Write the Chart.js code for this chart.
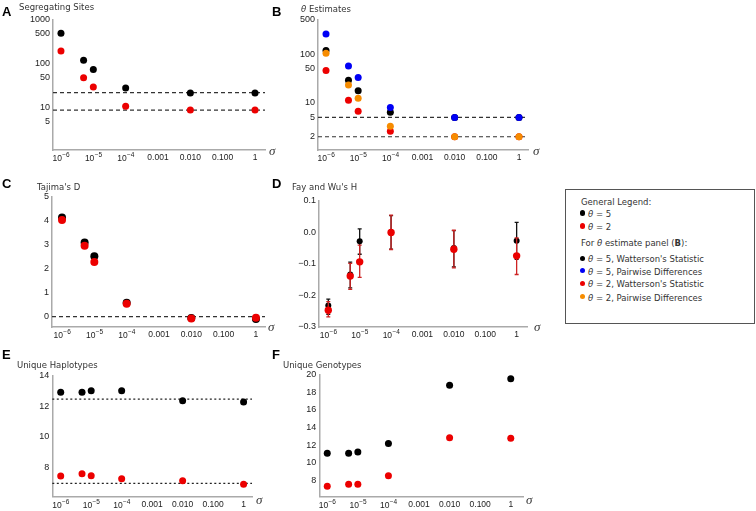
<!DOCTYPE html>
<html><head><meta charset="utf-8">
<script src="https://cdn.jsdelivr.net/npm/chart.js@4.4.0/dist/chart.umd.min.js"></script>
<style>
body{margin:0;background:#fff;width:756px;height:511px;position:relative;overflow:hidden;}
.t{position:absolute;line-height:1;white-space:nowrap;}
.let{font:bold 13px "Liberation Sans",Arial,sans-serif;color:#000;}
.ttl{font:8.5px "DejaVu Sans",sans-serif;color:#333;}
.sig{font:italic 13px "Liberation Serif",serif;color:#333;}
.leg{font:8.5px "DejaVu Sans",sans-serif;color:#333;}
#legbox{position:absolute;left:565px;top:189px;width:188px;height:133px;border:1px solid #555;}
.dot{position:absolute;width:5.5px;height:5.5px;border-radius:50%;}
</style></head><body>
<div id="legbox"></div>
<script>
// ---- data ----
const sigma = [1e-6, 5e-6, 1e-5, 1e-4, 0.01, 1];
const xTickValues = [1e-6, 1e-5, 1e-4, 1e-3, 1e-2, 1e-1, 1];
const xTickBase = ['10', '10', '10', '0.001', '0.010', '0.100', '1'];
const xTickExp = ['\u22126', '\u22125', '\u22124', '', '', '', ''];

const segTheta5 = [500, 121, 75, 28.5, 22, 22];
const segTheta2 = [197, 49, 30, 11, 9, 9];
const segExpected = [22.4, 8.96];
const segTicks = [5, 10, 50, 100, 500, 1000];
const segTickLabels = ['5', '10', '50', '100', '500', '1000'];

const thetaW5 = [118, 29, 17.7, 6.4, 5, 5];
const thetaPi5 = [259, 57, 33, 8, 5, 5];
const thetaW2 = [46, 11.3, 6.7, 2.6, 2, 2];
const thetaPi2 = [104, 23, 12.4, 3.3, 2, 2];
const thetaExpected = [5, 2];
const thetaTicks = [2, 5, 10, 50, 100, 500];
const thetaTickLabels = ['2', '5', '10', '50', '100', '500'];

const tajima5 = [4.14, 3.1, 2.53, 0.58, -0.05, -0.1];
const tajima2 = [4.04, 2.96, 2.29, 0.54, -0.07, -0.04];
const tajimaExpected = [0];
const tajimaTicks = [0, 1, 2, 3, 4, 5];
const tajimaTickLabels = ['0', '1', '2', '3', '4', '5'];

const fayWu5 = [-0.232, -0.134, -0.029, 0.0, -0.05, -0.027];
const fayWu5Lo = [-0.26, -0.176, -0.07, -0.054, -0.11, -0.086];
const fayWu5Hi = [-0.212, -0.095, 0.01, 0.052, 0.005, 0.031];
const fayWu2 = [-0.247, -0.139, -0.094, -0.001, -0.054, -0.075];
const fayWu2Lo = [-0.268, -0.181, -0.143, -0.055, -0.113, -0.134];
const fayWu2Hi = [-0.22, -0.099, -0.041, 0.054, 0.006, -0.018];
const fayWuTicks = [-0.3, -0.2, -0.1, 0, 0.1];
const fayWuTickLabels = ['\u22120.3', '\u22120.2', '\u22120.1', '0.0', '0.1'];

const hap5 = [12.91, 12.91, 13.02, 13.02, 12.36, 12.28];
const hap2 = [7.43, 7.58, 7.45, 7.25, 7.12, 6.9];
const hapExpected = [12.47, 6.95];
const hapTicks = [8, 10, 12, 14];
const hapTickLabels = ['8', '10', '12', '14'];

const geno5 = [11.1, 11.1, 11.24, 12.2, 18.76, 19.5];
const geno2 = [7.37, 7.6, 7.6, 8.57, 12.85, 12.78];
const genoTicks = [8, 10, 12, 14, 16, 18, 20];
const genoTickLabels = ['8', '10', '12', '14', '16', '18', '20'];

// ---- colours ----
const BLACK = '#000000', RED = 'rgb(236,0,0)', BLUE = 'rgb(0,0,245)', ORANGE = 'rgb(246,140,0)';
const TICK_FONT = '"Liberation Sans", Arial, sans-serif';

// ---- text helpers ----
function addText(html, x, baseline, cls, size) {
  const d = document.createElement('div');
  d.className = 't ' + cls;
  d.innerHTML = html;
  d.style.left = x + 'px';
  d.style.top = (baseline - 0.85 * size) + 'px';
  document.body.appendChild(d);
}

// ---- plugins ----
function hlinePlugin(values, dash, color, width) {
  return {
    id: 'hlines',
    beforeDatasetsDraw(chart) {
      const {ctx, chartArea: a} = chart;
      const y = chart.scales.y;
      ctx.save();
      ctx.setLineDash(dash);
      ctx.strokeStyle = color;
      ctx.lineWidth = width;
      values.forEach(v => {
        const py = y.getPixelForValue(v);
        ctx.beginPath(); ctx.moveTo(a.left, py); ctx.lineTo(a.right, py); ctx.stroke();
      });
      ctx.restore();
    }
  };
}
function errPlugin(sets) {
  return {
    id: 'errbars',
    beforeDatasetDraw(chart, args) {
      const s = sets[args.index];
      if (!s) return;
      const {ctx} = chart, x = chart.scales.x, y = chart.scales.y;
      ctx.save();
      ctx.strokeStyle = s.color; ctx.lineWidth = 1.3;
      sigma.forEach((sg, i) => {
        const px = x.getPixelForValue(sg), lo = y.getPixelForValue(s.lo[i]), hi = y.getPixelForValue(s.hi[i]);
        ctx.beginPath();
        ctx.moveTo(px, lo); ctx.lineTo(px, hi);
        ctx.moveTo(px - 2, lo); ctx.lineTo(px + 2, lo);
        ctx.moveTo(px - 2, hi); ctx.lineTo(px + 2, hi);
        ctx.stroke();
      });
      ctx.restore();
    }
  };
}
// power-of-ten tick labels with real superscript exponents
const powerTickPlugin = {
  id: 'powerTicks',
  afterDraw(chart) {
    const {ctx, chartArea: a} = chart, x = chart.scales.x;
    ctx.save();
    ctx.fillStyle = '#222';
    ctx.textBaseline = 'alphabetic';
    xTickValues.forEach((v, i) => {
      if (!xTickExp[i]) return;
      const px = x.getPixelForValue(v);
      ctx.font = '8.5px ' + TICK_FONT;
      const wb = ctx.measureText(xTickBase[i]).width;
      ctx.font = '6.5px ' + TICK_FONT;
      const we = ctx.measureText(xTickExp[i]).width;
      const x0 = px - (wb + we) / 2;
      ctx.font = '8.5px ' + TICK_FONT;
      ctx.fillText(xTickBase[i], x0, a.bottom + 11);
      ctx.font = '6.5px ' + TICK_FONT;
      ctx.fillText(xTickExp[i], x0 + wb + 0.3, a.bottom + 7);
    });
    ctx.restore();
  }
};

// ---- panel factory ----
function makePanel(cfg) {
  const {left, top, w, h} = cfg.box, area = cfg.area;
  const cv = document.createElement('canvas');
  cv.width = w; cv.height = h;
  cv.style.cssText = `position:absolute;left:${left}px;top:${top}px;width:${w}px;height:${h}px`;
  document.body.appendChild(cv);
  const yW = area.l - left, xH = top + h - area.b;
  const axisBorder = {color: '#aaaaaa', width: 1.5};
  const n = cfg.series.length;
  new Chart(cv, {
    type: 'scatter',
    data: {
      datasets: cfg.series.map((s, idx) => ({
        data: sigma.map((x, i) => ({x, y: s.values[i]})),
        backgroundColor: s.color, borderWidth: 0, order: n - idx,
        pointRadius: s.r || 3.5, pointHoverRadius: s.r || 3.5
      }))
    },
    options: {
      responsive: false, animation: false, events: [],
      layout: {padding: {top: area.t - top, right: left + w - area.r, left: 0, bottom: 0}},
      plugins: {legend: {display: false}, tooltip: {enabled: false}},
      scales: {
        x: {
          type: 'logarithmic', min: Math.pow(10, cfg.xExp[0]), max: Math.pow(10, cfg.xExp[1]),
          afterFit: s => { s.height = xH; },
          afterBuildTicks: s => { s.ticks = xTickValues.map(v => ({value: v})); },
          grid: {display: false, drawTicks: false},
          border: axisBorder,
          ticks: {autoSkip: false, maxRotation: 0, minRotation: 0, padding: 3, color: '#222',
            font: {family: TICK_FONT, size: 8.5}, callback: (v, i) => (xTickExp[i] ? '' : xTickBase[i])}
        },
        y: {
          type: cfg.yType, min: cfg.yMin, max: cfg.yMax,
          afterFit: s => { s.width = yW; },
          afterBuildTicks: s => { s.ticks = cfg.yTicks.map(v => ({value: v})); },
          grid: {display: false, drawTicks: false},
          border: axisBorder,
          ticks: {autoSkip: false, padding: 3, color: '#222',
            font: {family: TICK_FONT, size: 9}, callback: (v, i) => cfg.yLabels[i]}
        }
      }
    },
    plugins: [powerTickPlugin].concat(cfg.plugins || [])
  });
}

// A
makePanel({
  box: {left: 0, top: 0, w: 280, h: 172}, area: {l: 53, t: 20, r: 265, b: 150},
  xExp: [-6.247, 0.309], yType: 'logarithmic', yMin: 1.11, yMax: 1000,
  yTicks: segTicks, yLabels: segTickLabels,
  series: [{values: segTheta5, color: BLACK}, {values: segTheta2, color: RED}],
  plugins: [hlinePlugin(segExpected, [4, 3], '#333', 1.2)]
});
// B
makePanel({
  box: {left: 270, top: 0, w: 275, h: 172}, area: {l: 318, t: 20, r: 528, b: 150},
  xExp: [-6.249, 0.28], yType: 'logarithmic', yMin: 1.07, yMax: 500,
  yTicks: thetaTicks, yLabels: thetaTickLabels,
  series: [{values: thetaW5, color: BLACK}, {values: thetaPi5, color: BLUE},
           {values: thetaW2, color: RED}, {values: thetaPi2, color: ORANGE}],
  plugins: [hlinePlugin(thetaExpected, [4, 3], '#333', 1.2)]
});
// C
makePanel({
  box: {left: 0, top: 175, w: 280, h: 172}, area: {l: 52, t: 197, r: 265, b: 327},
  xExp: [-6.31, 0.28], yType: 'linear', yMin: -0.43, yMax: 5,
  yTicks: tajimaTicks, yLabels: tajimaTickLabels,
  series: [{values: tajima5, color: BLACK, r: 4}, {values: tajima2, color: RED, r: 4}],
  plugins: [hlinePlugin(tajimaExpected, [4, 3], '#333', 1.2)]
});
// D
makePanel({
  box: {left: 270, top: 175, w: 275, h: 172}, area: {l: 319, t: 200.5, r: 527, b: 327},
  xExp: [-6.296, 0.33], yType: 'linear', yMin: -0.3, yMax: 0.1,
  yTicks: fayWuTicks, yLabels: fayWuTickLabels,
  series: [{values: fayWu5, color: BLACK, r: 3}, {values: fayWu2, color: RED, r: 3.7}],
  plugins: [errPlugin([{lo: fayWu5Lo, hi: fayWu5Hi, color: '#111'}, {lo: fayWu2Lo, hi: fayWu2Hi, color: 'rgb(205,35,35)'}])]
});
// E
makePanel({
  box: {left: 0, top: 352, w: 280, h: 159}, area: {l: 52.3, t: 375.7, r: 252, b: 496.7},
  xExp: [-6.276, 0.276], yType: 'linear', yMin: 6.08, yMax: 14,
  yTicks: hapTicks, yLabels: hapTickLabels,
  series: [{values: hap5, color: BLACK}, {values: hap2, color: RED}],
  plugins: [hlinePlugin(hapExpected, [2, 2.5], '#222', 1.2)]
});
// F
makePanel({
  box: {left: 270, top: 352, w: 275, h: 159}, area: {l: 319.3, t: 374.3, r: 523, b: 496.7},
  xExp: [-6.26, 0.40], yType: 'linear', yMin: 6.2, yMax: 20,
  yTicks: genoTicks, yLabels: genoTickLabels,
  series: [{values: geno5, color: BLACK}, {values: geno2, color: RED}]
});

// ---- panel letters, titles, sigma labels ----
addText('A', 2, 15, 'let', 13);
addText('B', 272, 15, 'let', 13);
addText('C', 2, 187, 'let', 13);
addText('D', 272, 187, 'let', 13);
addText('E', 2, 358, 'let', 13);
addText('F', 272, 358, 'let', 13);
addText('Segregating Sites', 19, 9.5, 'ttl', 8.5);
addText('<i>\u03B8</i> Estimates', 301, 11.5, 'ttl', 8.5);
addText('Tajima\'s D', 37, 189, 'ttl', 8.5);
addText('Fay and Wu\'s H', 292, 189, 'ttl', 8.5);
addText('Unique Haplotypes', 17, 367, 'ttl', 8.5);
addText('Unique Genotypes', 283, 367, 'ttl', 8.5);
addText('\u03C3', 269, 154, 'sig', 13);
addText('\u03C3', 533, 154, 'sig', 13);
addText('\u03C3', 268, 330, 'sig', 13);
addText('\u03C3', 534, 330, 'sig', 13);
addText('\u03C3', 256, 503, 'sig', 13);
addText('\u03C3', 526, 503, 'sig', 13);

// ---- legend ----
const legendRows = [
  {text: 'General Legend:', y: 200.7, x: 581},
  {text: '<i>\u03B8</i> = 5', y: 213, dot: BLACK},
  {text: '<i>\u03B8</i> = 2', y: 226, dot: RED},
  {text: 'For <i>\u03B8</i> estimate panel (<b>B</b>):', y: 241.7, x: 581},
  {text: '<i>\u03B8</i> = 5, Watterson\'s Statistic', y: 258.3, dot: BLACK},
  {text: '<i>\u03B8</i> = 5, Pairwise Differences', y: 270.7, dot: BLUE},
  {text: '<i>\u03B8</i> = 2, Watterson\'s Statistic', y: 283.3, dot: RED},
  {text: '<i>\u03B8</i> = 2, Pairwise Differences', y: 296.7, dot: ORANGE}
];
legendRows.forEach(r => {
  if (r.dot) {
    const d = document.createElement('div');
    d.className = 'dot';
    d.style.background = r.dot;
    d.style.left = '579.5px';
    d.style.top = (r.y - 2.75) + 'px';
    document.body.appendChild(d);
    addText(r.text, 588, r.y + 3.2, 'leg', 8.5);
  } else {
    addText(r.text, r.x, r.y + 3.2, 'leg', 8.5);
  }
});
</script>
</body></html>
